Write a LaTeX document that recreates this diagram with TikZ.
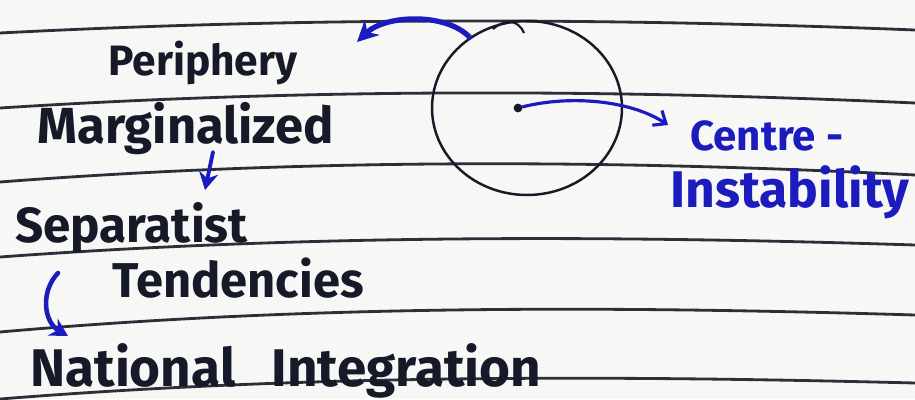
\documentclass[tikz,border=0pt]{standalone}
\usepackage{fontspec}
\setmainfont{Fira Sans}
\usetikzlibrary{arrows.meta, positioning, shapes.geometric, calc}
\definecolor{ink}{RGB}{22,26,40}
\definecolor{penblue}{RGB}{28,28,190}
\definecolor{rule}{RGB}{45,47,56}
\definecolor{paper}{RGB}{247,247,245}

\begin{document}
\begin{tikzpicture}[x=0.02cm, y=-0.02cm,
    hand/.style={font=\bfseries\fontsize{26}{28}\selectfont, text=ink,
                 inner sep=0pt, anchor=base west},
    bluehand/.style={hand, text=penblue},
    pen/.style={draw=penblue, line width=2.2pt, line cap=round},
    ruled/.style={draw=rule, line width=1.6pt},
    dot/.style={circle, fill=ink, inner sep=0pt, minimum size=5pt}]
  \useasboundingbox[fill=paper] (0,0) rectangle (915,399);

  % notebook lines
  \draw[ruled] (0,33)  .. controls (300,17.5) and (600,17.5) .. (915,30);
  \draw[ruled] (0,108) .. controls (300,88.8) and (600,88.8) .. (915,103);
  \draw[ruled] (0,182) .. controls (300,159) and (600,159) .. (915,175);
  \draw[ruled] (0,257) .. controls (300,235) and (600,235) .. (915,245);
  \draw[ruled] (0,332) .. controls (300,305.5) and (600,305.5) .. (915,315);
  \draw[ruled] (0,399) .. controls (300,375) and (600,375) .. (915,383);

  % circle
  \node[draw=ink, line width=1.4pt, ellipse, minimum width=3.8cm,
        minimum height=3.48cm] (core) at (527,108) {};
  \draw[ink, line width=1.2pt] (493,29) .. controls (505,19) and (518,19) .. (524,33);
  \node[dot] (hub) at (518,108) {};
  \coordinate (periend) at (357,42);

  % texts
  \node[hand, scale=0.93] (peri) at (108,75) {Periphery};
  \node[hand, scale=1.11] (marg) at (37,143) {Marginalized};
  \node[hand, scale=1.08] (sep) at (15,242) {Separatist};
  \node[hand, scale=1.07] (tend) at (112,297) {Tendencies};
  \node[hand, scale=1.16] (nat) at (30,386) {National\hspace{0.62cm}Integration};
  \node[bluehand, scale=0.92] (centre) at (690,150) {Centre -};
  \node[bluehand, scale=1.13] (instab) at (670,207) {Instability};

  % arrows
  \draw[pen, line width=3pt, -{Stealth[length=12pt,width=12pt]}]
    (core.129) .. controls (445,12) and (385,15) .. (periend);
  \draw[pen, line width=1.8pt, -{Straight Barb[length=6pt,width=10pt]}]
    (hub) .. controls (570,95) and (630,100) .. ($(centre.base west)+(-22,-25)$);
  \draw[pen, -{Stealth[length=10pt,width=11pt]}]
    ($(marg.base west)+(176,9)$) -- ($(sep.base west)+(190,-52)$);
  \draw[pen, line width=2.6pt, -{Stealth[length=10pt,width=11pt]}]
    ($(sep.base west)+(43,31)$) .. controls (40,292) and (44,322)
    .. ($(nat.base west)+(38,-50)$);
\end{tikzpicture}
\end{document}
